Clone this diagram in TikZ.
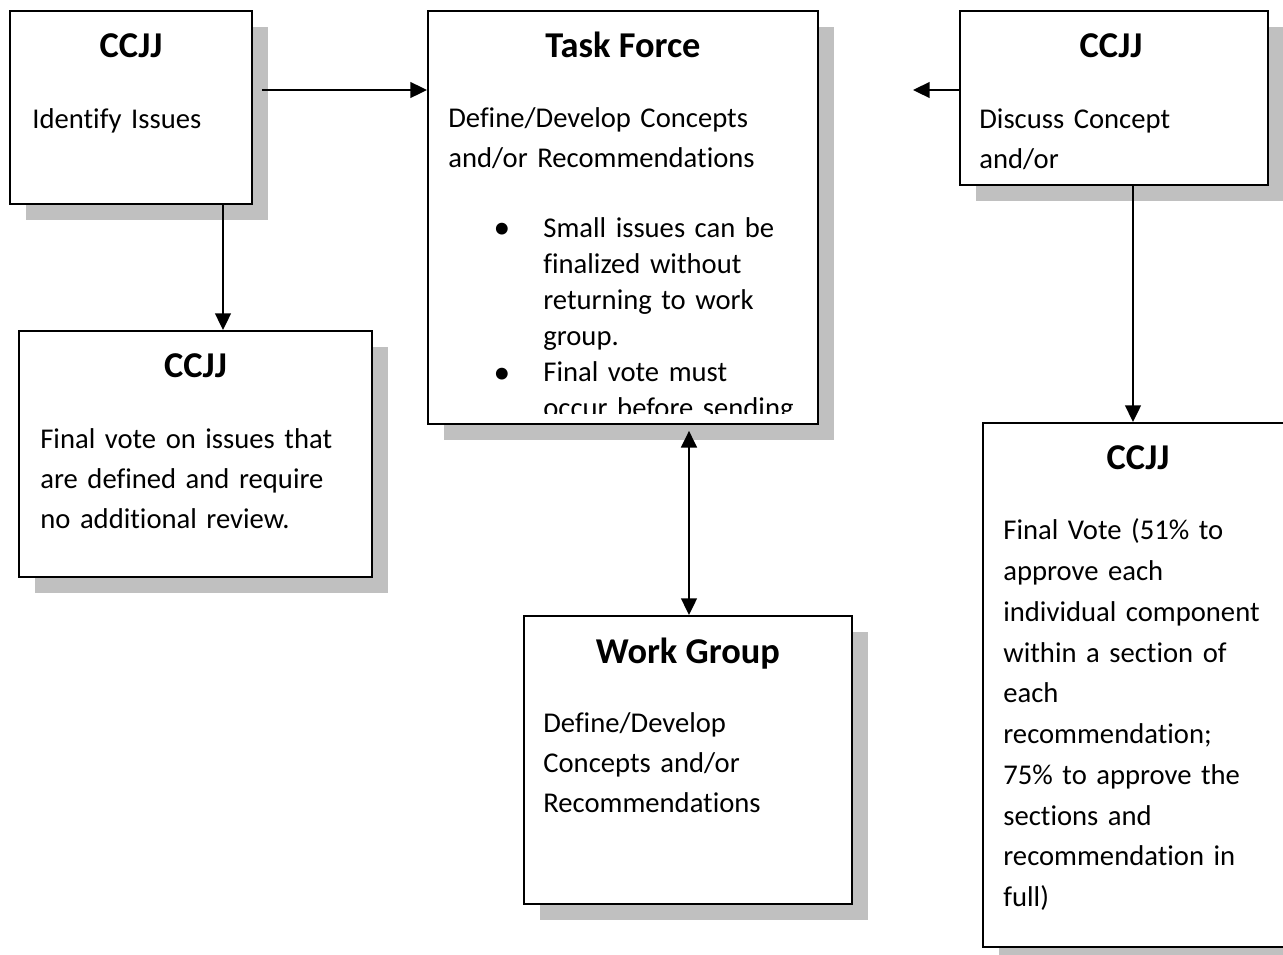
\documentclass[tikz,border=0pt]{standalone}
\usepackage{fontspec}
\setmainfont{Carlito}[Ligatures={NoCommon}]
\usetikzlibrary{calc,shadows,arrows.meta}
\definecolor{shadowgray}{RGB}{192,192,192}

\begin{document}
\begin{tikzpicture}[x=0.02cm,y=-0.02cm,
    link/.style={line width=1.1pt,-{Triangle[length=9.5pt,width=9pt]}},
    twoway/.style={line width=1.1pt,{Triangle[length=9.5pt,width=9pt]}-{Triangle[length=9.5pt,width=9pt]}},
    card/.style={draw,line width=1.1pt,fill=white,anchor=north west,inner sep=0pt,
        drop shadow={shadow xshift=0.32cm,shadow yshift=-0.32cm,fill=shadowgray,opacity=1}},
    head/.style={font=\bfseries\fontsize{20.7}{24}\selectfont,anchor=base,inner sep=0pt},
    txt/.style={font=\fontsize{16.3}{22.8}\selectfont,anchor=north west,inner sep=0pt,
        text width=8cm,align=left}]
            \clip (0,0) rectangle (1283,954);

            % boxes
            \node[card,minimum width=4.84cm,minimum height=3.86cm] (A) at (9,10) {};
            \node[card,minimum width=7.8cm,minimum height=8.26cm] (TF) at (427,10) {};
            \node[card,minimum width=6.16cm,minimum height=3.48cm] (C) at (959,10) {};
            \node[card,minimum width=7.06cm,minimum height=4.92cm] (B) at (18,330) {};
            \node[card,minimum width=6.56cm,minimum height=5.76cm] (WG) at (523,615) {};
            \node[card,minimum width=6.2cm,minimum height=10.48cm] (E) at (982,422) {};

            % texts
            \node[head] (A-t) at ($ (A.north) + (0,47) $) {CCJJ};
            \node[txt] (A-b) at ($ (A.north west) + (23,90) $) {\strut Identify Issues};

            \node[head] (TF-t) at ($ (TF.north) + (0,47) $) {Task Force};
            \node[txt] (TF-b) at ($ (TF.north west) + (21,89) $)
                {\strut Define/Develop Concepts\\and/or Recommendations};
            \begin{scope}
                \clip (TF.north west) rectangle ($ (TF.south east) + (0,-11) $);
                \foreach \y in {228,373}
                    \node[font=\fontsize{19}{20}\selectfont,anchor=base,inner sep=0pt] at ($ (TF.north west) + (75,\y) $) {\textbullet};
                \node[txt,font=\fontsize{16.3}{20.5}\selectfont] (TF-l) at ($ (TF.north west) + (116,202) $)
                    {\strut Small issues can be\\finalized without\\returning to work\\group.\\Final vote must\\occur before sending};
            \end{scope}

            \node[head] (C-t) at ($ (C.north) + (-3,47) $) {CCJJ};
            \node[txt] (C-b) at ($ (C.north west) + (20,90) $) {\strut Discuss Concept\\and/or};

            \node[head] (B-t) at ($ (B.north) + (0,47) $) {CCJJ};
            \node[txt] (B-b) at ($ (B.north west) + (22,90) $)
                {\strut Final vote on issues that\\are defined and require\\no additional review.};

            \node[head] (WG-t) at ($ (WG.north) + (0,48) $) {Work Group};
            \node[txt] (WG-b) at ($ (WG.north west) + (20,89) $)
                {\strut Define/Develop\\Concepts and/or\\Recommendations};

            \node[head] (E-t) at ($ (E.north) + (0,47) $) {CCJJ};
            \node[txt,font=\fontsize{16.3}{23.2}\selectfont] (E-b) at ($ (E.north west) + (21,89) $)
                {\strut Final Vote (51\% to\\approve each\\individual component\\within a section of\\each\\recommendation;\\75\% to approve the\\sections and\\recommendation in\\full)};

            % arrows
            \coordinate (a1) at ($ (A.north east) + (9,80) $);
            \coordinate (a2) at ($ (A.south west) + (214,0) $);
            \coordinate (c1) at ($ (C.north west) + (0,80) $);
            \coordinate (c2) at ($ (c1) + (-46,0) $);
            \coordinate (c3) at ($ (C.south west) + (174,0) $);
            \coordinate (t1) at ($ (TF.south west) + (262,6) $);

            \draw[link] (a1) -- (a1 -| TF.west);
            \draw[link] (a2) -- (a2 |- B.north);
            \draw[link] (c1) -- (c2);
            \draw[link] (c3) -- (c3 |- E.north);
            \draw[twoway] (t1) -- (t1 |- WG.north);
\end{tikzpicture}
\end{document}
